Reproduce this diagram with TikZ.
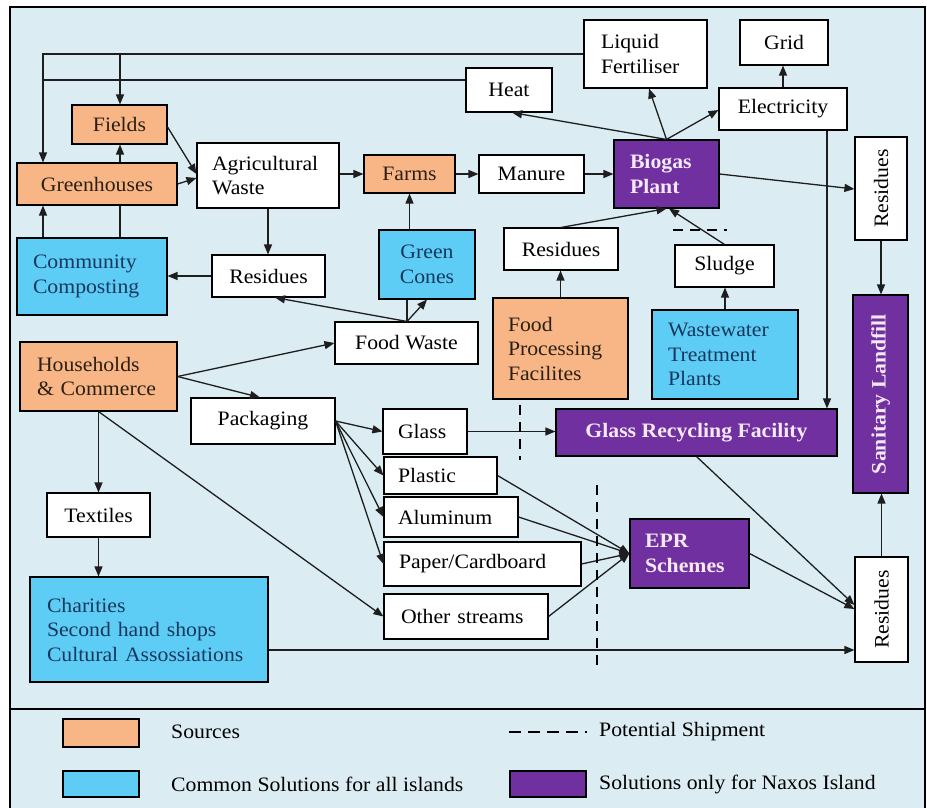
\documentclass[tikz,border=0pt]{standalone}
\usepackage{fontspec}
\usepackage{graphicx}
\setmainfont{Liberation Serif}[FakeStretch=1.06]
\usetikzlibrary{arrows.meta,calc}
\definecolor{bgC}{HTML}{DBECF2}
\definecolor{orC}{HTML}{F8B585}
\definecolor{blC}{HTML}{5DCDF5}
\definecolor{puC}{HTML}{7030A0}
\definecolor{puT}{HTML}{F6E9F6}
\definecolor{blT}{HTML}{17375E}
\definecolor{orT}{HTML}{2B2014}
\definecolor{lnC}{HTML}{1E1E1E}
\begin{document}
\begin{tikzpicture}[x=1pt,y=-1pt,
  box/.style={draw=black, line width=1.1pt, inner sep=0pt, align=center,
    font=\fontsize{20.5}{24.5}\selectfont},
  wbox/.style={box, fill=white, text=black},
  obox/.style={box, fill=orC, text=orT},
  bbox/.style={box, fill=blC, text=blT},
  pbox/.style={box, fill=puC, text=puT, font=\fontsize{20.5}{24.5}\selectfont\bfseries},
  sz/.style 2 args={minimum width=#1, minimum height=#2},
  lft/.style 2 args={text width=#1, inner xsep=#2, align=left},
  arr/.style={draw=lnC, line width=1.3pt, -{Triangle[length=10pt,width=8pt]}},
  ln/.style={draw=lnC, line width=1.3pt},
  dsh/.style={draw=black, line width=2.6pt, dash pattern=on 10pt off 7pt},
  lgtext/.style={anchor=west, inner sep=0pt, font=\fontsize{20.5}{24.5}\selectfont, text=black}
]
\useasboundingbox (0,0) rectangle (927,807);
% frame
\fill[white] (0,0) rectangle (927,807);
\draw[line width=1.3pt, fill=bgC] (10,7) rectangle (925,815);
\draw[line width=1.3pt] (10,709) -- (925,709);

% nodes
\node[obox, sz={95}{39}] (fields) at (119.5,124.5) {Fields};
\node[obox, sz={160}{42}] (green) at (97,184) {Greenhouses};
\node[wbox, sz={142}{65}, lft={112}{15}] (agw) at (268,175.5) {Agricultural\\Waste};
\node[obox, sz={91}{38}] (farms) at (409.5,174) {Farms};
\node[wbox, sz={105}{38}] (manure) at (531.5,174) {Manure};
\node[pbox, sz={105}{68}, lft={73}{16}] (biogas) at (666.5,174) {Biogas\\Plant};
\node[wbox, sz={86}{44}] (heat) at (509,90) {Heat};
\node[wbox, sz={123}{68}, lft={89}{17}] (lf) at (645.5,54) {Liquid\\Fertiliser};
\node[wbox, sz={88}{45}] (grid) at (784,42.5) {Grid};
\node[wbox, sz={128}{42}] (elec) at (783,109) {Electricity};
\node[wbox, sz={52}{103}] (res1) at (881,188.5) {\rotatebox{90}{Residues}};
\node[pbox, sz={55}{198}] (landfill) at (880.5,394) {\rotatebox{90}{Sanitary Landfill}};
\node[wbox, sz={53}{105}] (res3) at (881.5,609.5) {\rotatebox{90}{Residues}};
\node[bbox, sz={150}{77}, lft={118}{16}] (cc) at (92,276.5) {Community\\Composting};
\node[wbox, sz={113}{42}] (res2) at (268.5,276) {Residues};
\node[bbox, sz={96}{69}] (cones) at (427,264.5) {Green\\Cones};
\node[wbox, sz={143}{42}] (fw) at (406.5,343) {Food Waste};
\node[wbox, sz={114}{42}] (res4) at (561,249) {Residues};
\node[obox, sz={135}{101}, lft={105}{15}] (fpf) at (560.5,348.5) {Food\\Processing\\Facilites};
\node[wbox, sz={99}{42}] (sludge) at (724.5,266) {Sludge};
\node[bbox, sz={146}{89}, lft={114}{16}] (wwtp) at (725,354.5) {Wastewater\\Treatment\\Plants};
\node[obox, sz={157}{69}, lft={123}{17}] (hh) at (98.5,376.5) {Households\\\& Commerce};
\node[wbox, sz={144}{46}] (pack) at (263,421) {Packaging};
\node[wbox, sz={84}{45}, lft={54}{15}] (glass) at (425,431.5) {Glass};
\node[pbox, sz={281}{47}] (grf) at (696.5,432.5) {Glass Recycling Facility};
\node[wbox, sz={113}{37}, lft={85}{14}] (plastic) at (440.5,475.5) {Plastic};
\node[wbox, sz={134}{40}, lft={106}{14}] (alu) at (451,517) {Aluminum};
\node[wbox, sz={197}{44}, lft={167}{15}] (paper) at (482.5,564) {Paper/Cardboard};
\node[wbox, sz={164}{45}, lft={130}{17}] (other) at (466,616.5) {Other streams};
\node[pbox, sz={119}{69}, lft={89}{15}] (epr) at (689.5,553.5) {EPR\\Schemes};
\node[wbox, sz={103}{44}] (textiles) at (98.5,515) {Textiles};
\node[bbox, sz={238}{105}, lft={204}{17}] (char) at (149,629.5) {Charities\\Second hand shops\\Cultural Assossiations};

% top feedback lines
\draw[arr] (lf.west) -- (43,0 |- lf.west) -- (43,0 |- green.north);
\draw[arr] (120,0 |- lf.west) -- (120,0 |- fields.north);
\draw[ln] (heat.west |- 0,80) -- (43,80);

% left cluster
\draw[arr] (120,0 |- green.north) -- (120,0 |- fields.south);
\draw[arr] (fields.east |- 0,127) -- (agw.west |- 0,174);
\draw[arr] (green.east) -- (agw.west |- 0,178);
\draw[arr] (43,0 |- cc.north) -- (43,0 |- green.south);
\draw[ln] (120,0 |- cc.north) -- (120,0 |- green.south);
\draw[arr] (agw.south) -- (agw.south |- res2.north);
\draw[arr] (agw.east |- farms.west) -- (farms.west);
\draw[arr] (farms.east) -- (manure.west);
\draw[arr] (manure.east) -- (biogas.west);
\draw[arr] (farms.south |- cones.north) -- (farms.south);
\draw[arr] (res2.west) -- (cc.east |- res2.west);
\draw[arr] (407,0 |- fw.north) -- (275,0 |- res2.south);
\draw[arr] (407,0 |- fw.north) -- (427,0 |- cones.south);
\draw[ln] (407,0 |- fw.north) -- (407,0 |- cones.south);

% households
\draw[arr] (hh.east) -- (fw.west);
\draw[arr] (hh.east) -- (260,0 |- pack.north);
\draw[arr] (hh.south) -- (textiles.north);
\draw[arr] (hh.south) -- (other.west);
\draw[arr] (textiles.south) -- (textiles.south |- char.north);
\draw[arr] (char.east |- 0,650) -- (res3.west |- 0,650);

% packaging
\draw[arr] (pack.east) -- (glass.west);
\draw[arr] (pack.east) -- (plastic.west);
\draw[arr] (pack.east) -- (alu.west);
\draw[arr] (pack.east) -- (paper.west);
\draw[arr] (glass.east) -- (grf.west |- glass.east);
\draw[arr] (plastic.east) -- (epr.west);
\draw[arr] (alu.east) -- (epr.west);
\draw[arr] (paper.east) -- (epr.west);
\draw[arr] (other.east) -- (epr.west);
\draw[arr] (epr.east) -- (res3.west |- 0,609);
\draw[arr] (grf.south) -- (res3.west |- 0,605);
\draw[arr] (res3.north) -- (res3.north |- landfill.south);
\draw[arr] (res1.south) -- (res1.south |- landfill.north);

% biogas
\draw[arr] (biogas.east) -- (res1.west |- 0,189);
\draw[arr] (biogas.north) -- (512,0 |- heat.south);
\draw[arr] (biogas.north) -- (649,0 |- lf.south);
\draw[arr] (biogas.north) -- (elec.west |- 0,110);
\draw[arr] (elec.north) -- (elec.north |- grid.south);
\draw[arr] (827,0 |- elec.south) -- (827,0 |- grf.north);
\draw[arr] (res4.north) -- (biogas.south);
\draw[arr] (sludge.north) -- (669,0 |- biogas.south);
\draw[arr] (fpf.north) -- (fpf.north |- res4.south);
\draw[arr] (wwtp.north) -- (wwtp.north |- sludge.south);

% potential shipment marks
\draw[dsh] (673,230) -- (727,230);
\draw[dsh] (520,405) -- (520,460);
\draw[dsh] (597,485) -- (597,665);

% legend
\node[draw=black, line width=1.1pt, fill=orC, sz={76}{28}] (lgo) at (101,733) {};
\node[draw=black, line width=1.1pt, fill=blC, sz={76}{26}] (lgb) at (101,784) {};
\node[draw=black, line width=1.1pt, fill=puC, sz={76}{26}] (lgp) at (548,784) {};
\node[lgtext] (lgot) at (171,732) {Sources};
\node[lgtext] (lgbt) at (171,784) {Common Solutions for all islands};
\node[lgtext] (lgpt) at (599,784) {Solutions only for Naxos Island};
\node[lgtext] (lgdt) at (599,732) {Potential Shipment};
\draw[dsh, dash pattern=on 12pt off 7pt] (509,732) -- (587,732);
\end{tikzpicture}
\end{document}
